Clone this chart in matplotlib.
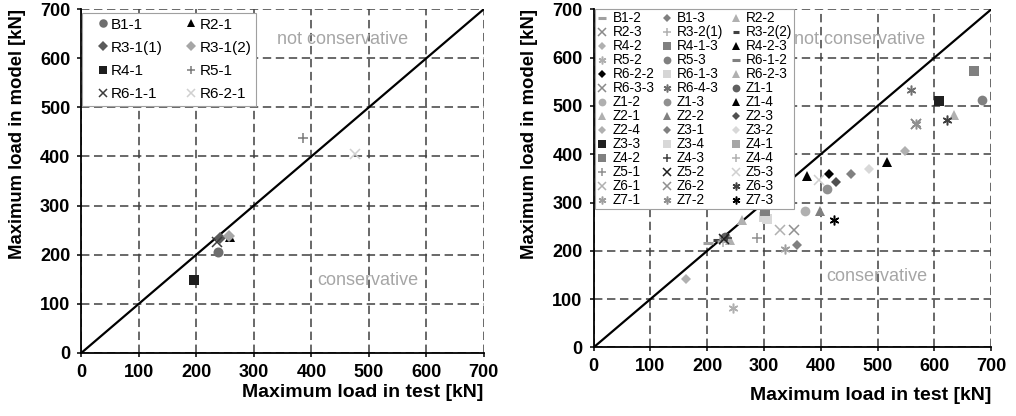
import matplotlib
matplotlib.use("Agg")
import matplotlib.pyplot as plt

# ---------------- data ----------------
left_labels = ["B1-1", "R2-1", "R3-1(1)", "R3-1(2)", "R4-1", "R5-1", "R6-1-1", "R6-2-1"]
left_test   = [237, 259, 241, 256, 196, 385, 235, 476]
left_model  = [206, 236, 234, 237, 148, 438, 225, 405]

right_labels = ["B1-2", "B1-3", "R2-2",
                "R2-3", "R3-2(1)", "R3-2(2)",
                "R4-2", "R4-1-3", "R4-2-3",
                "R5-2", "R5-3", "R6-1-2",
                "R6-2-2", "R6-1-3", "R6-2-3",
                "R6-3-3", "R6-4-3", "Z1-1",
                "Z1-2", "Z1-3", "Z1-4",
                "Z2-1", "Z2-2", "Z2-3",
                "Z2-4", "Z3-1", "Z3-2",
                "Z3-3", "Z3-4", "Z4-1",
                "Z4-2", "Z4-3", "Z4-4",
                "Z5-1", "Z5-2", "Z5-3",
                "Z6-1", "Z6-2", "Z6-3",
                "Z7-1", "Z7-2", "Z7-3"]
right_test = [202, 358, 261,
              568, 222, 215,
              548, 669, 516,
              245, 683, 226,
              415, 300, 634,
              568, 558, 231,
              372, 411, 376,
              240, 399, 426,
              162, 454, 484,
              608, 305, 336,
              302, 235, 228,
              287, 230, 397,
              328, 353, 622,
              337, 568, 423]
right_model = [217, 212, 263,
               462, 222, 222,
               406, 573, 384,
               81, 513, 220,
               359, 270, 481,
               462, 533, 229,
               283, 327, 355,
               222, 283, 342,
               141, 359, 369,
               511, 266, 298,
               282, 226, 218,
               226, 224, 347,
               244, 244, 471,
               203, 462, 264]

ticks = [0, 100, 200, 300, 400, 500, 600, 700]

# ---------------- styles ----------------
left_markers = ["o", "^", "D", "D", "s", "+", "x", "x"]
left_colors = ["#6e6e6e", "#000000", "#5a5a5a", "#a6a6a6", "#1e1e1e", "#7a7a7a", "#3c3c3c", "#d0d0d0"]

AST = (6, 2, 0)
right_markers = ["_", "D", "^",
                 "x", "+", "_",
                 "D", "s", "^",
                 AST, "o", "_",
                 "D", "s", "^",
                 "x", AST, "o",
                 "o", "o", "^",
                 "^", "^", "D",
                 "D", "D", "D",
                 "s", "s", "s",
                 "s", "+", "+",
                 "+", "x", "x",
                 "x", "x", AST,
                 AST, AST, AST]
right_colors = ["#a0a0a0", "#808080", "#b0b0b0",
                "#8a8a8a", "#b0b0b0", "#404040",
                "#b0b0b0", "#808080", "#000000",
                "#b0b0b0", "#808080", "#808080",
                "#000000", "#d6d6d6", "#b0b0b0",
                "#8a8a8a", "#707070", "#606060",
                "#b0b0b0", "#909090", "#000000",
                "#b0b0b0", "#808080", "#505050",
                "#b0b0b0", "#808080", "#d8d8d8",
                "#202020", "#d8d8d8", "#a6a6a6",
                "#808080", "#404040", "#b0b0b0",
                "#909090", "#202020", "#d0d0d0",
                "#b0b0b0", "#909090", "#404040",
                "#a0a0a0", "#909090", "#000000"]

plt.rcParams["font.family"] = ["Liberation Sans", "DejaVu Sans"]

fig = plt.figure(figsize=(10.16, 4.16), dpi=100)
ax1 = fig.add_axes([0.0802, 0.152, 0.396, 0.826])
ax2 = fig.add_axes([0.5843, 0.165, 0.3913, 0.8125])

GRID = "#404040"
TXT = "#a6a6a6"


def style_axes(ax, nc_x):
    ax.set_xlim(0, 700)
    ax.set_ylim(0, 700)
    ax.set_xticks(ticks)
    ax.set_yticks(ticks)
    ax.grid(True, color=GRID, linestyle=(0, (5.5, 3)), linewidth=1.1, zorder=0)
    ax.set_axisbelow(True)
    for s in ("top", "right"):
        ax.spines[s].set_visible(False)
    for s in ("left", "bottom"):
        ax.spines[s].set_linewidth(1.3)
        ax.spines[s].set_zorder(5)
    ax.tick_params(direction="out", length=3, width=1.1, labelsize=13, pad=5)
    for lab in ax.get_xticklabels() + ax.get_yticklabels():
        lab.set_fontweight("bold")
    ax.plot([0, 700], [0, 700], color="black", linewidth=1.6, zorder=3)
    ax.text(nc_x, 638, "not conservative", color=TXT, fontsize=13, va="center", ha="left", zorder=1)
    ax.text(410, 147, "conservative", color=TXT, fontsize=13, va="center", ha="left", zorder=1)


def mk_kwargs(m, c, ms):
    filled = m in ("o", "^", "D", "s")
    kw = dict(marker=m, linestyle="none", color=c)
    if filled:
        kw.update(markersize=ms, markeredgewidth=0, markerfacecolor=c)
    elif m == "_":
        kw.update(markersize=ms * 1.1, markeredgewidth=2.2)
    else:
        kw.update(markersize=ms, markeredgewidth=1.1)
    return kw


style_axes(ax1, 340)
style_axes(ax2, 352)

# left plot
h1 = []
for lab, x, y, m, c in zip(left_labels, left_test, left_model, left_markers, left_colors):
    ms = 7.2 if m != "D" else 6.0
    (ln,) = ax1.plot([x], [y], label=lab, zorder=4, **mk_kwargs(m, c, ms))
    h1.append(ln)
order1 = list(range(0, len(h1), 2)) + list(range(1, len(h1), 2))
leg1 = ax1.legend([h1[i] for i in order1], [left_labels[i] for i in order1],
                  ncol=2, loc="upper left", bbox_to_anchor=(0.002, 0.99), borderaxespad=0,
                  fontsize=11, frameon=True, fancybox=False, framealpha=1,
                  edgecolor="#a0a0a0", handlelength=2.0, handletextpad=-0.45,
                  columnspacing=0.85, labelspacing=0.6, borderpad=0.33, markerscale=0.85)
leg1.get_frame().set_linewidth(0.8)
leg1.set_zorder(10)

# right plot
h2 = []
for lab, x, y, m, c in zip(right_labels, right_test, right_model, right_markers, right_colors):
    if m == "_" and lab == "R3-2(2)":
        ms = 4.5
    elif m == "D":
        ms = 5.6
    else:
        ms = 7.0
    (ln,) = ax2.plot([x], [y], label=lab, zorder=4, **mk_kwargs(m, c, ms))
    h2.append(ln)
n = len(h2)
order2 = [i for col in range(3) for i in range(col, n, 3)]
leg2 = ax2.legend([h2[i] for i in order2], [right_labels[i] for i in order2],
                  ncol=3, loc="upper left", bbox_to_anchor=(0.003, 1.0), borderaxespad=0,
                  fontsize=9.8, frameon=True, fancybox=False, framealpha=1,
                  edgecolor="#a0a0a0", handlelength=0.8, handletextpad=0.35,
                  columnspacing=0.5, labelspacing=0.0, borderpad=0.15, markerscale=0.8)
leg2.get_frame().set_linewidth(0.8)
leg2.set_zorder(10)

for ax, lp_x, lp_y in ((ax1, 2, 10), (ax2, 8, 10)):
    ax.set_xlabel("Maximum load in test [kN]", fontsize=14, fontweight="bold", loc="right", labelpad=lp_x)
    ax.set_ylabel("Maximum load in model [kN]", fontsize=13.3, fontweight="bold", loc="top", labelpad=lp_y)

fig.savefig("out.png", dpi=100)
